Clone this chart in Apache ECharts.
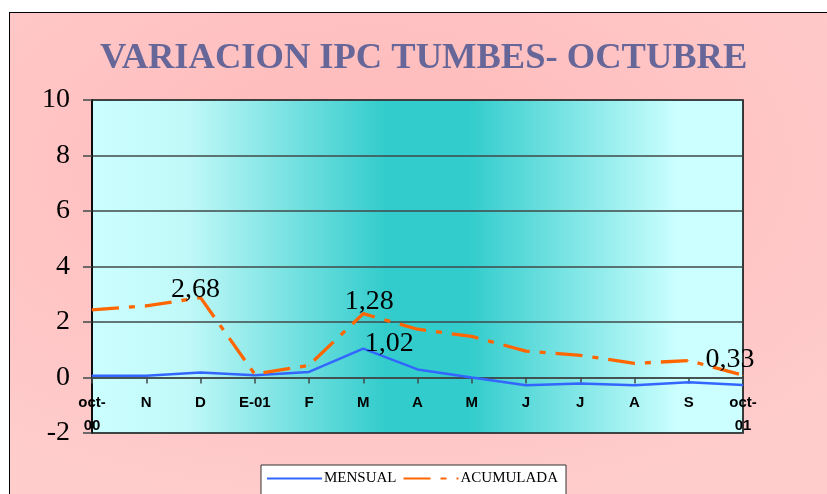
<!DOCTYPE html>
<html>
<head>
<meta charset="utf-8">
<script src="https://cdn.jsdelivr.net/npm/echarts@6/dist/echarts.min.js"></script>
<style>
html,body{margin:0;padding:0;background:#fff;overflow:hidden;width:827px;height:494px;}
#frame{position:absolute;left:9px;top:12px;width:900px;height:600px;border:1.5px solid #000;
background:radial-gradient(ellipse 70% 60% at 40% 25%, #ffb9b9 0%, #ffc4c4 55%, #ffcccc 100%);}
#c{position:absolute;left:0;top:0;width:827px;height:494px;}
</style>
</head>
<body>
<div id="frame"></div>
<div id="c"></div>
<script>
var categories = ["oct-\n00","N","D","E-01","F","M","A","M","J","J","A","S","oct-\n01"];
var mensual    = [0.06,0.06,0.18,0.08,0.20,1.04,0.29,0.00,-0.28,-0.22,-0.28,-0.17,-0.27];
var acumulada  = [2.44,2.58,2.88,0.12,0.44,2.30,1.74,1.48,0.95,0.80,0.51,0.61,0.08];
var acumLabels = {2:"2,68",5:"1,28",12:"0,33"};
var mensLabels = {5:"1,02"};
var yTicks = [-2,0,2,4,6,8,10];

var labelOffsets = {acum:{2:[-5,-8],5:[6,-12],12:[-13,-16]}, mens:{5:[26,-5]}};
function build(values, labels, offs){
  return values.map(function(v,i){
    var item = {value:v};
    if (labels[i] !== undefined){
      item.label = {show:true, position:'inside', offset:offs[i], formatter:labels[i],
        color:'#000', fontFamily:'Liberation Serif', fontSize:28};
    }
    return item;
  });
}

var chart = echarts.init(document.getElementById('c'), null, {renderer:'canvas'});
chart.setOption({
  backgroundColor:'transparent',
  animation:false,
  title:{text:'VARIACION IPC TUMBES- OCTUBRE', left:95, top:35,
    textStyle:{fontFamily:'Liberation Serif', fontWeight:'bold', fontSize:36.5, color:'#666699'}},
  legend:{left:261, top:465, backgroundColor:'#fff', borderColor:'#333', borderWidth:1,
    padding:[6,8,30,5], itemWidth:55, itemHeight:12, itemGap:6,
    itemStyle:{opacity:0},
    textStyle:{fontFamily:'Liberation Serif', fontSize:15, color:'#000', padding:[0,0,0,-3]},
    data:['MENSUAL','ACUMULADA']},
  grid:{left:92, right:84, top:100, bottom:61, show:true, borderColor:'#000', borderWidth:1.5,
    backgroundColor: new echarts.graphic.LinearGradient(0,0,1,0,[
      {offset:0,color:'#ccffff'},{offset:0.15,color:'#c0f8f8'},{offset:0.45,color:'#33cccc'},
      {offset:0.58,color:'#33cccc'},{offset:0.9,color:'#ccffff'},{offset:1,color:'#ccffff'}])},
  xAxis:{type:'category', data:categories, boundaryGap:false,
    axisLine:{onZero:true, lineStyle:{color:'#404848', width:1.5}},
    axisTick:{show:true, length:6, lineStyle:{color:'#404848', width:1.5}},
    axisLabel:{interval:0, margin:-42, fontFamily:'Liberation Sans', fontWeight:'bold', fontSize:15,
      color:'#000', lineHeight:23},
    splitLine:{show:false}},
  yAxis:{type:'value', min:-2, max:10, interval:2,
    axisLine:{show:true, lineStyle:{color:'#000', width:1.5}},
    axisTick:{show:true, length:9, lineStyle:{color:'#404848', width:1.5}},
    axisLabel:{margin:22, fontFamily:'Liberation Serif', fontSize:28, color:'#000',
      formatter:function(v){return yTicks.indexOf(v)>=0 ? String(v) : '';}},
    splitLine:{show:true, lineStyle:{color:'#404848', width:1.5}}},
  series:[
    {name:'MENSUAL', type:'line', data:build(mensual, mensLabels, labelOffsets.mens),
     symbol:'circle', symbolSize:1, showSymbol:true,
     lineStyle:{color:'#3366ff', width:2.5}, itemStyle:{color:'#3366ff'}, z:3},
    {name:'ACUMULADA', type:'line', data:build(acumulada, acumLabels, labelOffsets.acum),
     symbol:'circle', symbolSize:1, showSymbol:true,
     lineStyle:{color:'#ff6600', width:3.3, type:[27,10,6,10]}, itemStyle:{color:'#ff6600'}, z:4}
  ]
});
</script>
</body>
</html>
